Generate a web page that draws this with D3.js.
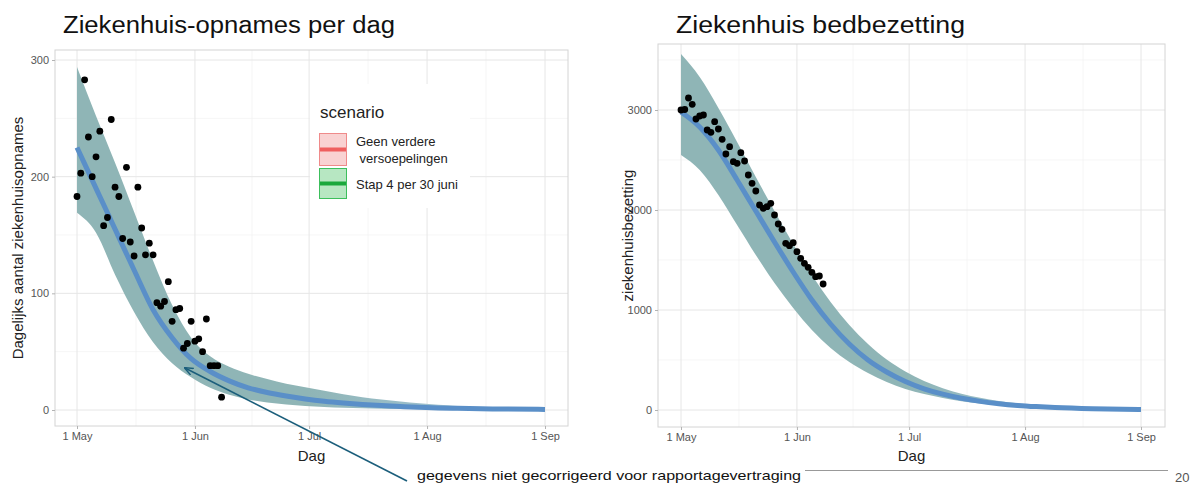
<!DOCTYPE html>
<html>
<head>
<meta charset="utf-8">
<script src="https://cdn.jsdelivr.net/npm/d3@7"></script>
<style>
  html, body { margin: 0; padding: 0; background: #fff; }
  svg { display: block; }
  text { font-family: "Liberation Sans", Arial, sans-serif; }
</style>
</head>
<body>
<svg id="chart" width="1195" height="486"></svg>
<script>
// ---------------- DATA ----------------
const obsStart = "2021-05-01";
// daily hospital admissions (observed), one value per day from 1 May
const admissionsObs = [183, 203, 283, 234, 200, 217, 239, 158, 165, 249, 191, 183, 147, 208, 144, 132, 191, 156, 133, 143,
  133, 92, 89, 93, 110, 76, 86, 87, 53, 57, 76, 59, 61, 50, 78, 38, 38, 38, 11];
// hospital bed occupancy (observed), one value per day from 1 May
const occupancyObs = [3000, 3005, 3120, 3057, 2910, 2940, 2950, 2800, 2777, 2883, 2810, 2707, 2560, 2633, 2483, 2467, 2573, 2490,
  2350, 2267, 2190, 2050, 2017, 2033, 2067, 1950, 1860, 1807, 1667, 1643, 1673, 1583, 1517, 1467, 1427, 1377, 1333, 1340, 1260];

// model curves, sampled at day offsets from 1 May
const curveDays = [0, 5, 10, 15, 20, 25, 30, 35, 40, 45, 50, 55, 60, 65, 70, 75, 80, 85, 90, 95, 100, 110, 123];
const admMedian = [225, 190, 155, 120, 86, 62, 44, 33, 25, 19, 15, 12, 9.5, 7.5, 6, 4.8, 3.8, 3, 2.3, 1.8, 1.4, 0.9, 0.5];
const admUpper  = [294, 252, 212, 170, 128, 90, 62, 46, 37, 31, 26.5, 22.5, 19.5, 16.5, 13.5, 11, 9, 7.2, 5.7, 4.5, 3.5, 2.3, 1.2];
const admLower  = [169, 152, 116, 84, 58, 40, 28, 19, 13, 9, 6.5, 4.8, 3.5, 2.6, 1.9, 1.4, 1, 0.8, 0.6, 0.4, 0.3, 0.2, 0.1];

const occMedian = [2980, 2830, 2600, 2300, 1990, 1680, 1380, 1100, 860, 660, 500, 380, 285, 212, 158, 117, 86, 63, 46, 34, 25, 13, 5];
const occUpper  = [3560, 3330, 3020, 2680, 2330, 1990, 1660, 1350, 1080, 850, 660, 505, 385, 290, 218, 163, 122, 90, 67, 50, 37, 20, 8];
const occLower  = [2550, 2400, 2150, 1850, 1550, 1270, 1020, 800, 620, 480, 370, 280, 210, 160, 120, 88, 65, 48, 35, 25, 18, 9, 3];

const monthTicks = ["2021-05-01", "2021-06-01", "2021-07-01", "2021-08-01", "2021-09-01"];
const admTicks = [0, 100, 200, 300];
const admMinor = [50, 150, 250];
const occTicks = [0, 1000, 2000, 3000];
const occMinor = [500, 1500, 2500, 3500];

const legendTitle = "scenario";
const legendItems = [["Geen verdere", " versoepelingen"], ["Stap 4 per 30 juni"]];
const titles = ["Ziekenhuis-opnames per dag", "Ziekenhuis bedbezetting"];
const yTitles = ["Dagelijks aantal ziekenhuisopnames", "ziekenhuisbezetting"];
const xTitle = "Dag";
const noteText = "gegevens niet gecorrigeerd voor rapportagevertraging";
const pageNumber = "20";

// ---------------- DRAWING ----------------
const parse = d3.timeParse("%Y-%m-%d");
const t0 = parse(obsStart);
const dayToDate = d => t0.getTime() + d * 864e5;
const ticksD = monthTicks.map(parse);
const minorD = ticksD.slice(0, -1).map((d, i) => new Date((d.getTime() + ticksD[i + 1].getTime()) / 2));

const svg = d3.select("#chart");
const defs = svg.append("defs");

defs.append("marker").attr("id", "arrowhead").attr("viewBox", "0 0 10 10")
  .attr("refX", 9).attr("refY", 5).attr("markerWidth", 9).attr("markerHeight", 9)
  .attr("orient", "auto-start-reverse").attr("markerUnits", "userSpaceOnUse")
  .append("path").attr("d", "M0,1 L10,5 L0,9").attr("fill", "none")
  .attr("stroke", "#1b5e7b").attr("stroke-width", 1.6);

function panel(cfg) {
  const {px0, px1, py0, py1, x, y, yTicksMajor, yTicksMinor, median, upper, lower, obs, title, titleX, titleW, yTitle, yTitleX, gid} = cfg;
  const g = svg.append("g");
  g.append("rect").attr("x", px0).attr("y", py0).attr("width", px1 - px0).attr("height", py1 - py0).attr("fill", "#fff");
  // grid
  g.selectAll(".hmin").data(yTicksMinor).join("line")
    .attr("x1", px0).attr("x2", px1).attr("y1", d => y(d)).attr("y2", d => y(d))
    .attr("stroke", "#f2f2f2").attr("stroke-width", 0.7);
  g.selectAll(".vmin").data(minorD).join("line")
    .attr("y1", py0).attr("y2", py1).attr("x1", d => x(d)).attr("x2", d => x(d))
    .attr("stroke", "#f2f2f2").attr("stroke-width", 0.7);
  g.selectAll(".hmaj").data(yTicksMajor).join("line")
    .attr("x1", px0).attr("x2", px1).attr("y1", d => y(d)).attr("y2", d => y(d))
    .attr("stroke", "#e6e6e6").attr("stroke-width", 1);
  g.selectAll(".vmaj").data(ticksD).join("line")
    .attr("y1", py0).attr("y2", py1).attr("x1", d => x(d)).attr("x2", d => x(d))
    .attr("stroke", "#e6e6e6").attr("stroke-width", 1);

  // gradient for ribbon tail
  const grad = defs.append("linearGradient").attr("id", gid).attr("gradientUnits", "userSpaceOnUse")
    .attr("x1", x(ticksD[2])).attr("x2", x(ticksD[4])).attr("y1", 0).attr("y2", 0);
  grad.append("stop").attr("offset", 0).attr("stop-color", "#8fb5b6");
  grad.append("stop").attr("offset", 1).attr("stop-color", "#a9c9e2");

  const curve = curveDays.map((d, i) => ({t: dayToDate(d), m: median[i], u: upper[i], l: lower[i]}));
  g.append("path").datum(curve)
    .attr("d", d3.area().x(d => x(d.t)).y0(d => y(d.l)).y1(d => y(d.u)).curve(d3.curveMonotoneX))
    .attr("fill", `url(#${gid})`);
  g.append("path").datum(curve)
    .attr("d", d3.line().x(d => x(d.t)).y(d => y(d.m)).curve(d3.curveMonotoneX))
    .attr("fill", "none").attr("stroke", "#5a8fc8").attr("stroke-width", 5).attr("stroke-linecap", "butt");

  g.selectAll(".pt").data(obs).join("circle")
    .attr("cx", (d, i) => x(dayToDate(i))).attr("cy", d => y(d)).attr("r", 3.4).attr("fill", "#000");

  g.append("rect").attr("x", px0).attr("y", py0).attr("width", px1 - px0).attr("height", py1 - py0)
    .attr("fill", "none").attr("stroke", "#d4d4d4").attr("stroke-width", 1);

  // axes
  const ax = g.append("g").attr("transform", `translate(0,${py1})`)
    .call(d3.axisBottom(x).tickValues(ticksD).tickFormat(d3.timeFormat("%-d %b")).tickSize(3).tickPadding(3));
  const ay = g.append("g").attr("transform", `translate(${px0},0)`)
    .call(d3.axisLeft(y).tickValues(yTicksMajor).tickFormat(d3.format("d")).tickSize(3).tickPadding(3));
  [ax, ay].forEach(a => {
    a.select(".domain").remove();
    a.selectAll(".tick line").attr("stroke", "#b3b3b3");
    a.selectAll(".tick text").attr("fill", "#555").attr("font-size", 11)
      .attr("font-family", "Liberation Sans, Arial, sans-serif");
  });

  g.append("text").attr("x", (px0 + px1) / 2).attr("y", 461).attr("text-anchor", "middle")
    .attr("font-size", 15).attr("fill", "#222").text(xTitle);
  g.append("text").attr("transform", `translate(${yTitleX},${(py0 + py1) / 2}) rotate(-90)`)
    .attr("text-anchor", "middle").attr("font-size", 15).attr("fill", "#222").text(yTitle);

  svg.append("text").attr("x", titleX).attr("y", 33).attr("font-size", 23)
    .attr("font-family", "Open Sans, Noto Sans, sans-serif").attr("fill", "#111")
    .attr("textLength", titleW).attr("lengthAdjust", "spacingAndGlyphs").text(title);
}

const xL = d3.scaleTime().domain([ticksD[0], ticksD[4]]).range([77, 545]);
const yL = d3.scaleLinear().domain([0, 300]).range([410, 60]);
panel({px0: 55, px1: 568, py0: 50, py1: 426, x: xL, y: yL, yTicksMajor: admTicks, yTicksMinor: admMinor,
  median: admMedian, upper: admUpper, lower: admLower, obs: admissionsObs,
  title: titles[0], titleX: 63, titleW: 332, yTitle: yTitles[0], yTitleX: 23, gid: "gL"});

const xR = d3.scaleTime().domain([ticksD[0], ticksD[4]]).range([681, 1141]);
const yR = d3.scaleLinear().domain([0, 3000]).range([410, 110]);
panel({px0: 658, px1: 1165, py0: 44, py1: 427, x: xR, y: yR, yTicksMajor: occTicks, yTicksMinor: occMinor,
  median: occMedian, upper: occUpper, lower: occLower, obs: occupancyObs,
  title: titles[1], titleX: 676, titleW: 289, yTitle: yTitles[1], yTitleX: 633, gid: "gR"});

// legend (inside left panel)
const lg = svg.append("g");
lg.append("rect").attr("x", 310).attr("y", 84).attr("width", 160).attr("height", 124).attr("fill", "#fff");
lg.append("text").attr("x", 320).attr("y", 118).attr("font-size", 17).attr("fill", "#222").text(legendTitle);
const keyCols = [{fill: "#f9d2d2", stroke: "#ef8a8a", line: "#ef5f5f"}, {fill: "#b7e7c2", stroke: "#3cbf5c", line: "#1aa83c"}];
const keyY = [133, 168];
const keyH = [33, 31];
legendItems.forEach((lines, i) => {
  const c = keyCols[i];
  lg.append("rect").attr("x", 319.5).attr("y", keyY[i] + 0.5).attr("width", 27).attr("height", keyH[i] - 1)
    .attr("fill", c.fill).attr("stroke", c.stroke).attr("stroke-width", 1);
  lg.append("line").attr("x1", 320).attr("x2", 346).attr("y1", keyY[i] + keyH[i] / 2).attr("y2", keyY[i] + keyH[i] / 2)
    .attr("stroke", c.line).attr("stroke-width", 4);
  lines.forEach((s, j) => {
    lg.append("text").attr("x", 356).attr("y", (lines.length === 1 ? keyY[i] + keyH[i] / 2 + 5 : keyY[i] + 13 + j * 17))
      .attr("font-size", 13).attr("fill", "#222").attr("xml:space", "preserve").style("white-space", "pre").text(s);
  });
});

// annotation arrow + note
svg.append("line").attr("x1", 407).attr("y1", 481).attr("x2", 185).attr("y2", 368)
  .attr("stroke", "#1b5e7b").attr("stroke-width", 1.6).attr("marker-end", "url(#arrowhead)");
svg.append("text").attr("x", 417).attr("y", 480).attr("font-size", 13)
  .attr("font-family", "DejaVu Sans, Verdana, sans-serif").attr("fill", "#111")
  .attr("textLength", 384).attr("lengthAdjust", "spacingAndGlyphs").text(noteText);
svg.append("line").attr("x1", 805).attr("x2", 1168).attr("y1", 470.5).attr("y2", 470.5)
  .attr("stroke", "#999").attr("stroke-width", 1);
svg.append("text").attr("x", 1175).attr("y", 482).attr("font-size", 13).attr("fill", "#555")
  .attr("font-family", "DejaVu Sans, Verdana, sans-serif").text(pageNumber);
</script>
</body>
</html>
